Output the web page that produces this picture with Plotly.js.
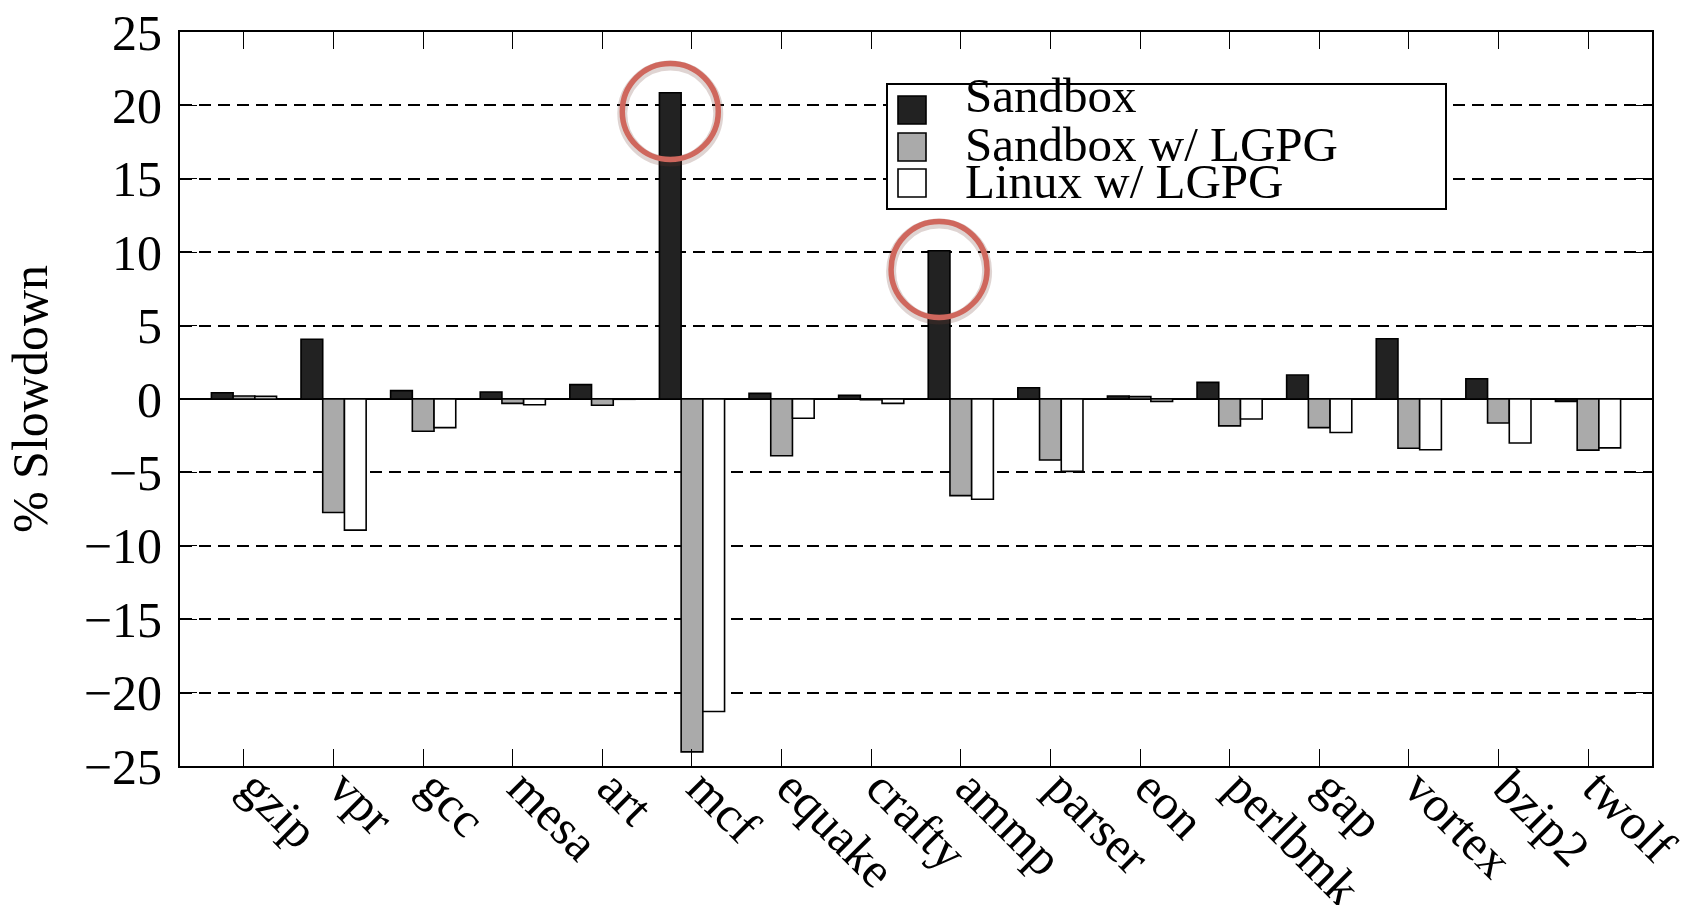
<!DOCTYPE html>
<html>
<head>
<meta charset="utf-8">
<script src="https://cdn.plot.ly/plotly-3.0.1.min.js"></script>
<style>
  html, body { margin: 0; padding: 0; background: #ffffff; }
  #chart { width: 1700px; height: 905px; }
</style>
</head>
<body>
<div id="chart"></div>
<script>
// ---- data ----
const categories = ['gzip','vpr','gcc','mesa','art','mcf','equake','crafty','ammp','parser','eon','perlbmk','gap','vortex','bzip2','twolf'];
const sandbox      = [0.43, 4.07, 0.57, 0.48, 0.98, 20.86, 0.38, 0.25, 10.1, 0.77, 0.2, 1.13, 1.63, 4.1, 1.38, -0.16];
const sandboxLGPG  = [0.2, -7.73, -2.2, -0.3, -0.43, -24.04, -3.87, -0.05, -6.58, -4.16, 0.16, -1.83, -1.95, -3.35, -1.63, -3.48];
const linuxLGPG    = [0.18, -8.93, -1.95, -0.39, -0.02, -21.29, -1.31, -0.3, -6.83, -4.93, -0.16, -1.36, -2.28, -3.46, -3.0, -3.33];
const seriesNames  = ['Sandbox', 'Sandbox w/ LGPG', 'Linux w/ LGPG'];
const seriesColors = ['#222222', '#aaaaaa', '#ffffff'];
const highlighted  = ['mcf', 'ammp'];
const yTicks       = [-25, -20, -15, -10, -5, 0, 5, 10, 15, 20, 25];

const seriesValues = [sandbox, sandboxLGPG, linuxLGPG];
const serif = 'Liberation Serif, Times New Roman, serif';

const traces = seriesValues.map((vals, i) => ({
  type: 'bar',
  name: seriesNames[i],
  x: categories,
  y: vals,
  marker: { color: seriesColors[i], line: { color: '#000000', width: 1.6 } },
  showlegend: false,
  hoverinfo: 'x+y+name'
}));

// plot area geometry (pixels)
const W = 1700, H = 905;
const M = { l: 180, r: 48, t: 32, b: 139 };
const PW = W - M.l - M.r, PH = H - M.t - M.b;
const px2x = p => (p - M.l) / PW;
const px2y = p => (H - M.b - p) / PH;

const xRange = [-0.714, categories.length - 1 + 0.714];
const nSeries = seriesValues.length;
const bargap = 0.273;
const barW = (1 - bargap) / nSeries;
const unitPx = PW / (xRange[1] - xRange[0]);
const yUnitPx = PH / 50;

const shapes = [];
const annotations = [];

// highlight circles around the Sandbox bars of selected benchmarks
const rPx = 48;
highlighted.forEach(cat => {
  const idx = categories.indexOf(cat);
  const cx = idx - barW;               // centre of the Sandbox (first) bar
  const cy = sandbox[idx] - 1.27;
  const rx = rPx / unitPx, ry = rPx / yUnitPx;
  // soft shadow
  shapes.push({ type: 'circle', xref: 'x', yref: 'y', layer: 'above',
    x0: cx - rx, x1: cx + rx, y0: cy - ry - 0.15, y1: cy + ry - 0.15,
    line: { color: 'rgba(110,60,50,0.22)', width: 10 } });
  shapes.push({ type: 'circle', xref: 'x', yref: 'y', layer: 'above',
    x0: cx - rx, x1: cx + rx, y0: cy - ry, y1: cy + ry,
    line: { color: '#cf675d', width: 5.5 } });
});

// legend box (drawn by hand to match the original proportions)
const lg = { x0: 887, x1: 1446, y0: 84, y1: 209 };
shapes.push({ type: 'rect', xref: 'paper', yref: 'paper', layer: 'above',
  x0: px2x(lg.x0), x1: px2x(lg.x1), y0: px2y(lg.y1), y1: px2y(lg.y0),
  fillcolor: '#ffffff', line: { color: '#000000', width: 2 } });
const rowCentres = [110, 147, 183];
const textCentres = [95, 144, 181];
seriesNames.forEach((name, i) => {
  shapes.push({ type: 'rect', xref: 'paper', yref: 'paper', layer: 'above',
    x0: px2x(898), x1: px2x(926),
    y0: px2y(rowCentres[i] + 14), y1: px2y(rowCentres[i] - 14),
    fillcolor: seriesColors[i], line: { color: '#000000', width: 1.6 } });
  annotations.push({ xref: 'paper', yref: 'paper', x: px2x(963), y: px2y(textCentres[i]),
    xanchor: 'left', yanchor: 'middle', showarrow: false, text: name,
    font: { family: serif, size: 49, color: '#000000' } });
});

const layout = {
  width: W, height: H,
  margin: M,
  paper_bgcolor: '#ffffff',
  plot_bgcolor: '#ffffff',
  barmode: 'group',
  bargap: bargap,
  bargroupgap: 0,
  showlegend: false,
  font: { family: serif, color: '#000000' },
  xaxis: {
    type: 'category',
    range: xRange,
    showgrid: false,
    zeroline: false,
    showline: true, linecolor: '#000000', linewidth: 2,
    mirror: 'ticks',
    ticks: 'inside', ticklen: 17, tickwidth: 1.3, tickcolor: '#000000',
    tickangle: 45,
    ticklabelstandoff: -30,
    ticklabelshift: 10,
    tickfont: { family: serif, size: 50, color: '#000000' },
    automargin: false
  },
  yaxis: {
    range: [-25, 25],
    tickvals: yTicks,
    showgrid: true, gridcolor: '#000000', gridwidth: 1.6, griddash: '12px,7px',
    zeroline: true, zerolinecolor: '#000000', zerolinewidth: 2,
    showline: true, linecolor: '#000000', linewidth: 2,
    mirror: 'ticks',
    ticks: 'inside', ticklen: 17, tickwidth: 1.3, tickcolor: '#000000',
    ticklabelstandoff: 6,
    tickfont: { family: serif, size: 50, color: '#000000' },
    title: { text: '% Slowdown', font: { family: serif, size: 50, color: '#000000' }, standoff: 20 },
    automargin: false
  },
  shapes: shapes,
  annotations: annotations
};

Plotly.newPlot('chart', traces, layout, { displayModeBar: false, staticPlot: false });
</script>
</body>
</html>
